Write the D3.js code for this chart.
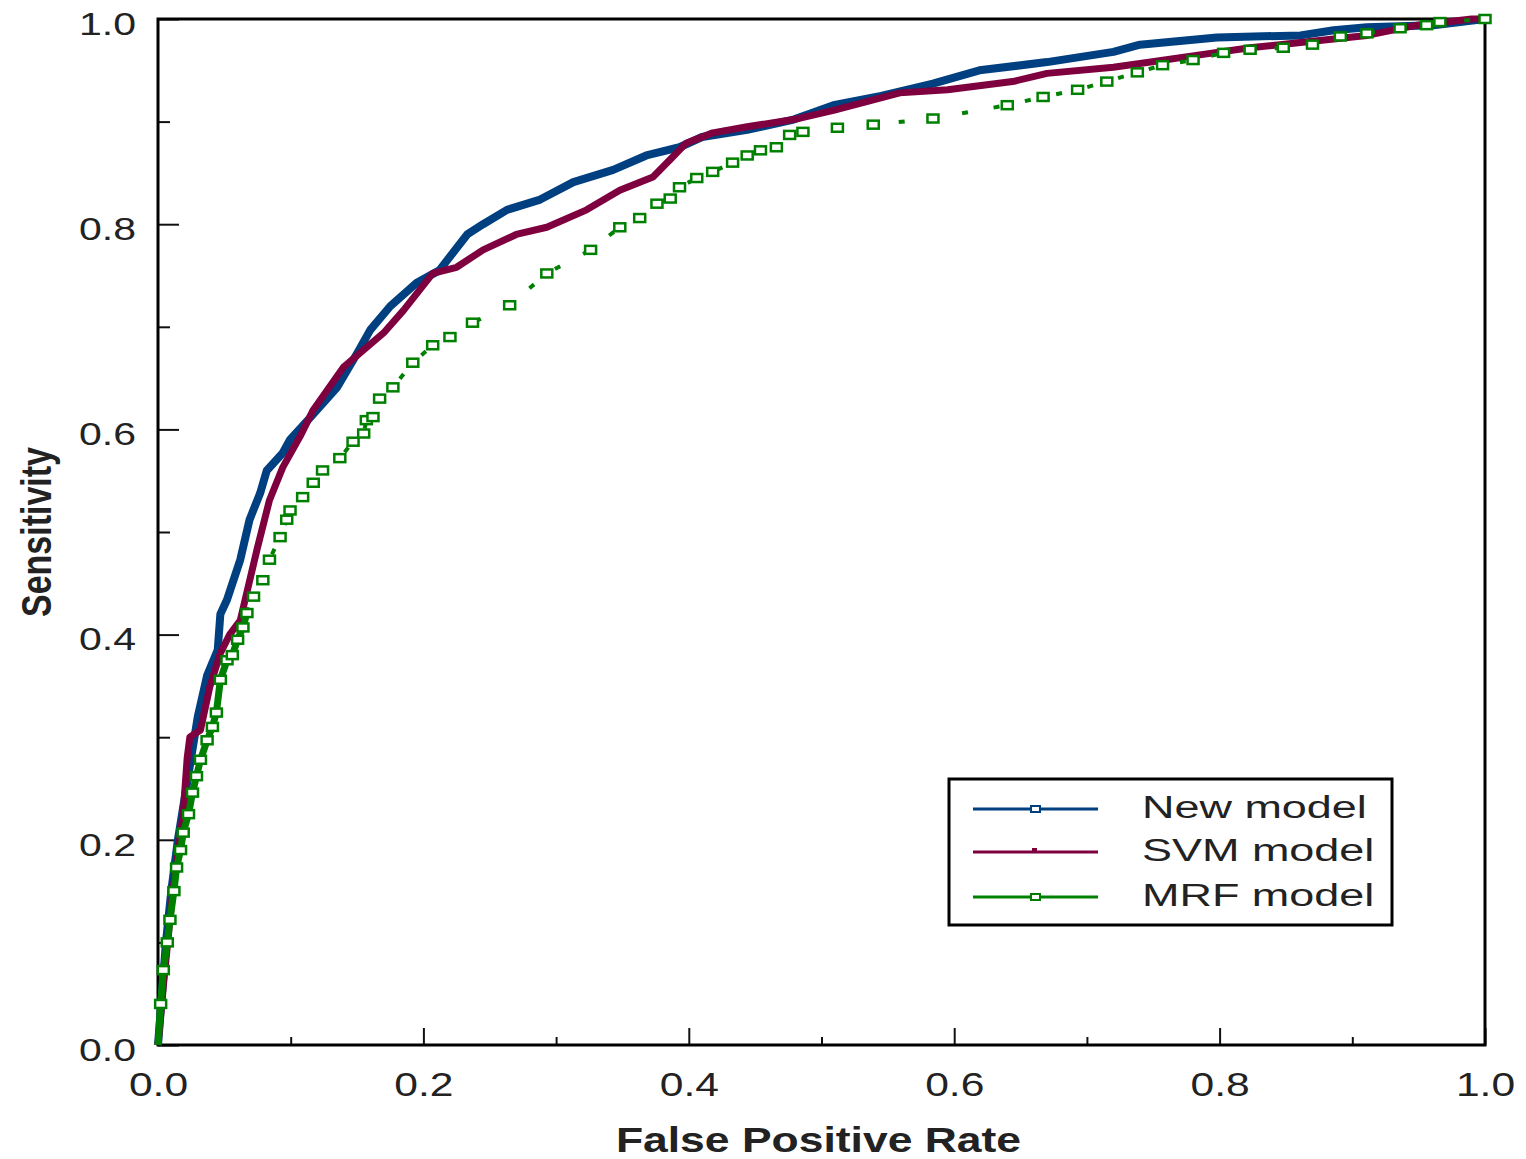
<!DOCTYPE html>
<html>
<head>
<meta charset="utf-8">
<script src="https://cdn.jsdelivr.net/npm/d3@7"></script>
<style>
  body { margin: 0; background: #fff; }
  text { font-family: "Liberation Sans", Arial, sans-serif; fill: #222; }
</style>
</head>
<body>
<div id="chart"></div>
<script>
// ROC curves: [false positive rate, sensitivity]
var newModel = [
  [0,0],[0.003,0.05],[0.006,0.1],[0.01,0.15],[0.015,0.2],[0.02,0.24],[0.025,0.28],
  [0.03,0.32],[0.037,0.36],[0.045,0.385],[0.047,0.42],[0.052,0.434],[0.062,0.473],
  [0.069,0.512],[0.077,0.538],[0.082,0.56],[0.094,0.577],[0.0995,0.59],[0.115,0.612],
  [0.135,0.641],[0.15,0.674],[0.16,0.697],[0.175,0.72],[0.195,0.743],[0.212,0.755],
  [0.233,0.79],[0.245,0.80],[0.263,0.814],[0.288,0.824],[0.313,0.841],[0.343,0.853],
  [0.368,0.867],[0.393,0.875],[0.41,0.885],[0.444,0.892],[0.479,0.902],[0.509,0.916],
  [0.545,0.925],[0.584,0.937],[0.619,0.95],[0.67,0.958],[0.72,0.968],[0.74,0.975],
  [0.798,0.982],[0.861,0.984],[0.886,0.989],[0.911,0.992],[0.961,0.994],[1,1]
];
var svmModel = [
  [0,0],[0.004,0.057],[0.011,0.148],[0.019,0.226],[0.022,0.28],[0.024,0.30],[0.032,0.307],
  [0.039,0.349],[0.047,0.382],[0.054,0.40],[0.062,0.414],[0.075,0.485],[0.084,0.531],
  [0.094,0.563],[0.107,0.593],[0.117,0.619],[0.14,0.661],[0.17,0.694],[0.185,0.716],
  [0.207,0.752],[0.225,0.758],[0.245,0.775],[0.27,0.79],[0.293,0.797],[0.323,0.814],
  [0.348,0.833],[0.373,0.846],[0.386,0.863],[0.398,0.879],[0.418,0.889],[0.444,0.895],
  [0.479,0.902],[0.509,0.911],[0.559,0.928],[0.595,0.931],[0.644,0.939],[0.67,0.947],
  [0.72,0.953],[0.748,0.958],[0.785,0.965],[0.823,0.972],[0.861,0.977],[0.911,0.984],
  [0.949,0.994],[0.99,1],[1,1]
];
var mrfModel = [
  [0,0],[0.002,0.04],[0.004,0.073],[0.007,0.1],[0.009,0.122],[0.012,0.15],[0.014,0.173],
  [0.017,0.19],[0.019,0.207],[0.023,0.225],[0.026,0.246],[0.029,0.262],[0.032,0.278],
  [0.037,0.297],[0.041,0.31],[0.044,0.324],[0.047,0.356],[0.052,0.375],[0.056,0.38],
  [0.06,0.395],[0.064,0.407],[0.067,0.421],[0.072,0.437],[0.079,0.453],[0.084,0.473],
  [0.092,0.495],[0.097,0.512],[0.0995,0.521],[0.109,0.534],[0.117,0.548],[0.124,0.56],
  [0.137,0.572],[0.147,0.588],[0.155,0.596],[0.157,0.609],[0.162,0.612],[0.167,0.63],
  [0.177,0.641],[0.192,0.665],[0.207,0.682],[0.22,0.69],[0.237,0.704],[0.265,0.721],
  [0.293,0.752],[0.326,0.775],[0.348,0.797],[0.363,0.806],[0.376,0.82],[0.386,0.825],
  [0.393,0.836],[0.406,0.845],[0.418,0.851],[0.433,0.86],[0.444,0.867],[0.454,0.872],
  [0.466,0.875],[0.476,0.887],[0.486,0.89],[0.512,0.894],[0.539,0.897],[0.584,0.903],
  [0.64,0.916],[0.667,0.924],[0.693,0.931],[0.715,0.939],[0.738,0.948],[0.757,0.955],
  [0.78,0.96],[0.803,0.967],[0.823,0.97],[0.848,0.972],[0.87,0.975],[0.891,0.983],
  [0.911,0.986],[0.936,0.991],[0.956,0.994],[0.966,0.997],[1,1]
];
var seriesNames = ["New model", "SVM model", "MRF model"];
var seriesColors = ["#003f80", "#7f003f", "#008000"];
var tickValues = d3.range(11).map(function(i){ return i / 10; });

var width = 1526, height = 1159;
var plotLeft = 158, plotRight = 1485, plotTop = 19, plotBottom = 1045;

var svg = d3.select("#chart").append("svg")
            .attr("width", width)
            .attr("height", height);

var x = d3.scaleLinear().domain([0, 1]).range([plotLeft, plotRight]);
var y = d3.scaleLinear().domain([0, 1]).range([plotBottom, plotTop]);

function isMajor(d) { return Math.round(d * 10) % 2 === 0; }

// stretch text horizontally, the picture is wider than it is tall
function stretch(sel, k) {
  sel.each(function() {
    var w = this.getComputedTextLength();
    if (w > 0) d3.select(this).attr("textLength", w * k).attr("lengthAdjust", "spacingAndGlyphs");
  });
}

// axes, ticks point inward
var gx = svg.append("g")
            .attr("transform", "translate(0," + plotBottom + ")")
            .call(d3.axisBottom(x).tickValues(tickValues).tickSize(0).tickPadding(28)
                    .tickFormat(function(d){ return isMajor(d) ? d3.format(".1f")(d) : ""; }));
gx.select(".domain").remove();
gx.selectAll(".tick line")
  .attr("y2", function(d){ return isMajor(d) ? -17 : -8; })
  .attr("stroke", "#111").attr("stroke-width", 2);
gx.selectAll(".tick text").attr("font-size", 33).attr("fill", "#222").call(stretch, 1.29);

var gy = svg.append("g")
            .attr("transform", "translate(" + plotLeft + ",0)")
            .call(d3.axisLeft(y).tickValues(tickValues).tickSize(0).tickPadding(22)
                    .tickFormat(function(d){ return isMajor(d) ? d3.format(".1f")(d) : ""; }));
gy.select(".domain").remove();
gy.selectAll(".tick line")
  .attr("x2", function(d){ return isMajor(d) ? 21 : 12; })
  .attr("stroke", "#111").attr("stroke-width", 2);
gy.selectAll(".tick text").attr("font-size", 32).attr("dy", "0.48em").attr("fill", "#222").call(stretch, 1.28);

// frame
svg.append("rect")
   .attr("x", plotLeft).attr("y", plotTop)
   .attr("width", plotRight - plotLeft).attr("height", plotBottom - plotTop)
   .attr("fill", "none").attr("stroke", "#000").attr("stroke-width", 3);

var line = d3.line()
             .x(function(d){ return x(d[0]); })
             .y(function(d){ return y(d[1]); });

// curves
svg.append("path").datum(newModel)
   .attr("d", line).attr("fill", "none")
   .attr("stroke", seriesColors[0]).attr("stroke-width", 8).attr("stroke-linejoin", "round");

svg.append("path").datum(svmModel)
   .attr("d", line).attr("fill", "none")
   .attr("stroke", seriesColors[1]).attr("stroke-width", 7).attr("stroke-linejoin", "round");

// MRF: dense part near the origin looks solid, the rest only shows dashes between markers
var mrfSolid = mrfModel.filter(function(d){ return d[0] <= 0.07; });
svg.append("path").datum(mrfSolid)
   .attr("d", line).attr("fill", "none")
   .attr("stroke", seriesColors[2]).attr("stroke-width", 7).attr("stroke-linejoin", "round");

svg.append("path").datum(mrfModel.slice(mrfSolid.length - 1))
   .attr("d", line).attr("fill", "none")
   .attr("stroke", seriesColors[2]).attr("stroke-width", 4)
   .attr("stroke-dasharray", "6,26");

svg.append("g").selectAll("rect")
   .data(mrfModel.slice(1))
   .enter().append("rect")
   .attr("x", function(d){ return x(d[0]) - 5.5; })
   .attr("y", function(d){ return y(d[1]) - 4; })
   .attr("width", 11).attr("height", 8)
   .attr("fill", "#fff")
   .attr("stroke", seriesColors[2]).attr("stroke-width", 2.5);

// legend
var legend = svg.append("g");
legend.append("rect")
      .attr("x", 949).attr("y", 779).attr("width", 443).attr("height", 146)
      .attr("fill", "#fff").attr("stroke", "#000").attr("stroke-width", 3);

var rows = [809, 852, 897];
seriesNames.forEach(function(name, i) {
  legend.append("line")
        .attr("x1", 973).attr("x2", 1098).attr("y1", rows[i]).attr("y2", rows[i])
        .attr("stroke", seriesColors[i]).attr("stroke-width", 3);
  if (i === 1) {
    legend.append("rect")
          .attr("x", 1032).attr("y", rows[i] - 4).attr("width", 5).attr("height", 4)
          .attr("fill", seriesColors[i]);
  } else {
    legend.append("rect")
          .attr("x", 1031).attr("y", rows[i] - 3).attr("width", 9).attr("height", 6)
          .attr("fill", "#fff").attr("stroke", seriesColors[i]).attr("stroke-width", 2);
  }
  legend.append("text")
        .attr("x", 1142).attr("y", rows[i] + 9)
        .attr("font-size", 31)
        .text(name)
        .call(stretch, 1.45);
});

// axis titles
svg.append("text")
   .attr("x", (plotLeft + plotRight) / 2 - 3).attr("y", 1152)
   .attr("text-anchor", "middle")
   .attr("font-size", 35).attr("font-weight", "bold")
   .text("False Positive Rate")
   .call(stretch, 1.27);

svg.append("text")
   .attr("transform", "translate(51,532) scale(1.27,1) rotate(-90)")
   .attr("text-anchor", "middle")
   .attr("font-size", 34).attr("font-weight", "bold")
   .text("Sensitivity");
</script>
</body>
</html>
